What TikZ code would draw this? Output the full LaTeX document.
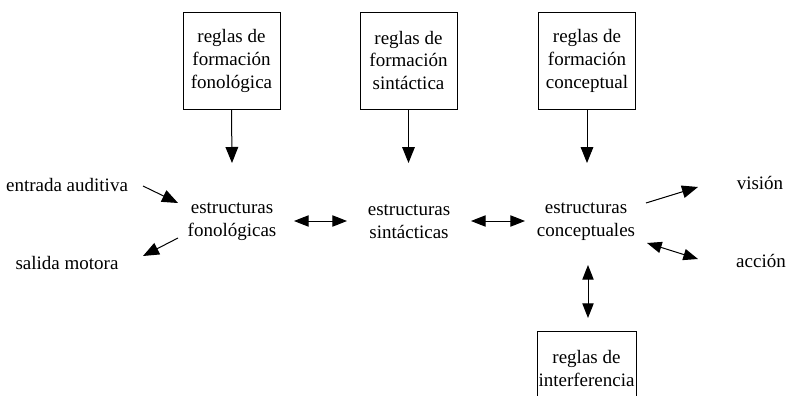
\documentclass[tikz,border=0pt]{standalone}
\usepackage{fontspec}
\setmainfont{Liberation Serif}
\usetikzlibrary{arrows.meta}
\begin{document}
\begin{tikzpicture}[x=0.75pt,y=-0.75pt,
  every node/.style={font=\fontsize{14.25}{17.25}\selectfont, align=center, inner sep=0pt},
  rulebox/.style={draw, line width=0.75pt, minimum width=72.75pt, minimum height=72.75pt},
  arr/.style={line width=0.75pt, -{Triangle[length=12pt,width=9.5pt]}},
  darr/.style={line width=0.75pt, {Triangle[length=11pt,width=8.5pt]}-{Triangle[length=11pt,width=8.5pt]}}]
\useasboundingbox (0,0) rectangle (793,396);
\clip (0,0) rectangle (793,396);
% rule boxes
\node[rulebox] (r1) at (231.5,60.5) {reglas de\\formación\\fonológica};
\node[rulebox] (r2) at (408.5,60.5) {reglas de\\formación\\sintáctica};
\node[rulebox] (r3) at (587,60.5) {reglas de\\formación\\conceptual};
% structures
\node (fono) at (232,222) {estructuras\\fonológicas};
\node (sint) at (409,222) {estructuras\\sintácticas};
\node (conc) at (586,222) {estructuras\\conceptuales};
% periphery
\node (entr) at (67,185) {entrada auditiva};
\node (sal) at (67,263) {salida motora};
\node (vis) at (760,183) {visión};
\node (acc) at (761,261) {acción};
% interference box (cut at bottom)
\node (interf) at (586.5,368) {reglas de\\interferencia};
\draw[line width=0.75pt] (537,410) |- (636,331) -- (636,410);
\coordinate (itop) at (588,318);
% arrow end coordinates
\coordinate (a1) at (232,163);
\coordinate (a2) at (408.5,163);
\coordinate (a3) at (587,163);
\coordinate (e1) at (143,186);
\coordinate (e2) at (178,203);
\coordinate (s1) at (178,238);
\coordinate (s2) at (143,256);
\coordinate (d1a) at (294,221);
\coordinate (d1b) at (347,221);
\coordinate (d2a) at (471,221);
\coordinate (d2b) at (525,221);
\coordinate (v1) at (646,203);
\coordinate (v2) at (698,187);
\coordinate (c1) at (647,243);
\coordinate (c2) at (698,259);
\coordinate (cb) at (588,265);
% connectors
\draw[arr] (r1.south) -- (a1);
\draw[arr] (r2.south) -- (a2);
\draw[arr] (r3.south) -- (a3);
\draw[arr] (e1) -- (e2);
\draw[arr] (s1) -- (s2);
\draw[darr] (d1a) -- (d1b);
\draw[darr] (d2a) -- (d2b);
\draw[arr] (v1) -- (v2);
\draw[darr] (c1) -- (c2);
\draw[darr] (cb) -- (itop);
\end{tikzpicture}
\end{document}
